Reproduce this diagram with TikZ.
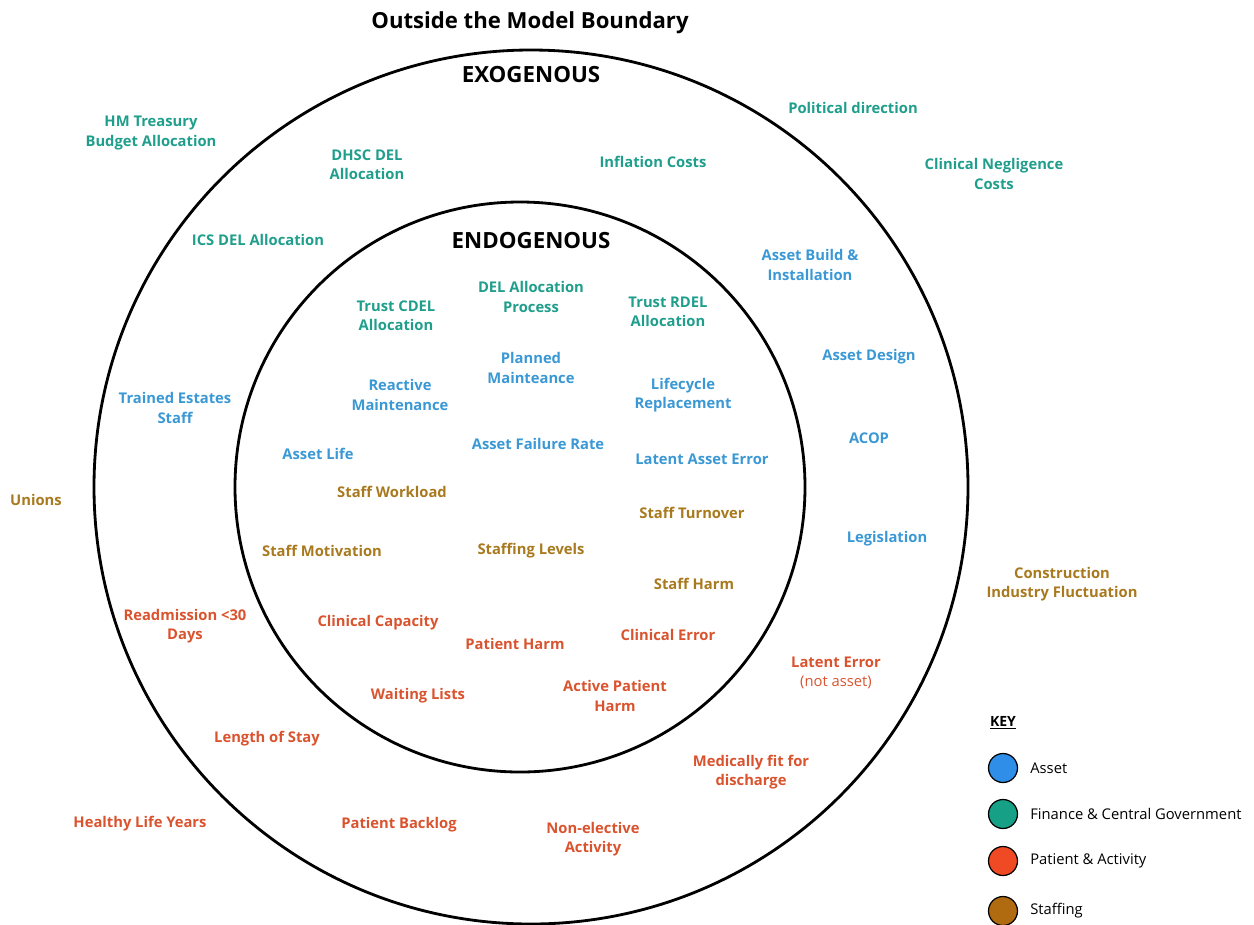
\documentclass[tikz,border=0pt]{standalone}
\usepackage{fontspec}
\setmainfont{Open Sans}
\usepackage{tikz}
\usetikzlibrary{positioning}

\definecolor{finc}{HTML}{1F9E8C}
\definecolor{astc}{HTML}{3A98D4}
\definecolor{patc}{HTML}{D9532E}
\definecolor{stfc}{HTML}{A8791E}
\definecolor{astdot}{HTML}{2F8FE8}
\definecolor{findot}{HTML}{16A085}
\definecolor{patdot}{HTML}{F04A25}
\definecolor{stfdot}{HTML}{B06A10}

\begin{document}
\begin{tikzpicture}[
    x=0.02cm, y=-0.02cm,
    ring/.style={draw, line width=1.6pt},
    lbl/.style={align=center, font=\bfseries\fontsize{8.4}{11}\selectfont, inner sep=1pt},
    head/.style={font=\bfseries\fontsize{12.7}{14}\selectfont},
    fin/.style={lbl, text=finc},
    ast/.style={lbl, text=astc},
    pat/.style={lbl, text=patc},
    stf/.style={lbl, text=stfc},
    keydot/.style={circle, draw, line width=0.7pt, minimum size=0.58cm, inner sep=0pt},
    keytxt/.style={font=\fontsize{8.4}{10}\selectfont, anchor=west}
]
\useasboundingbox (0,0) rectangle (1254,924);

% boundaries
\draw[ring] (531,487) circle [radius=437*0.02cm];
\draw[ring] (520,487) circle [radius=285*0.02cm];

\node[head, font=\bfseries\fontsize{12.6}{14}\selectfont] (title) at (530,23) {Outside the Model Boundary};
\node[head] (exo) at (531,75) {EXOGENOUS};
\node[head] (endo) at (531,241) {ENDOGENOUS};

% outside the model boundary
\node[fin] (hmt) at (151,133) {HM Treasury\\Budget Allocation};
\node[fin] (pol) at (853,108) {Political direction};
\node[fin] (cng) at (994,174) {Clinical Negligence\\Costs};
\node[stf] (uni) at (36,500) {Unions};
\node[stf] (con) at (1062,584) {Construction\\Industry Fluctuation};
\node[pat] (hly) at (140,824) {Healthy Life Years};

% exogenous
\node[fin] (dhsc) at (367,165) {DHSC DEL\\Allocation};
\node[fin] (inf) at (653,162) {Inflation Costs};
\node[fin] (ics) at (258,240) {ICS DEL Allocation};
\node[ast] (abi) at (810,265) {Asset Build \&\\Installation};
\node[ast] (ades) at (869,357) {Asset Design};
\node[ast] (tes) at (175,408) {Trained Estates\\Staff};
\node[ast] (acop) at (869,438) {ACOP};
\node[ast] (leg) at (887,539) {Legislation};
\node[pat] (readm) at (185,626) {Readmission <30\\Days};
\node[pat] (laterr) at (836,673) {Latent Error\\{\mdseries (not asset)}};
\node[pat] (los) at (267,739) {Length of Stay};
\node[pat] (mfd) at (751,772) {Medically fit for\\discharge};
\node[pat] (back) at (399,825) {Patient Backlog};
\node[pat] (nea) at (593,839) {Non-elective\\Activity};

% endogenous
\node[fin] (cdel) at (396,316) {Trust CDEL\\Allocation};
\node[fin] (delp) at (531,297) {DEL Allocation\\Process};
\node[fin] (rdel) at (668,312) {Trust RDEL\\Allocation};
\node[ast] (plan) at (531,368) {Planned\\Mainteance};
\node[ast] (react) at (400,395) {Reactive\\Maintenance};
\node[ast] (life) at (683,395) {Lifecycle\\Replacement};
\node[ast] (afr) at (538,444) {Asset Failure Rate};
\node[ast] (alife) at (318,454) {Asset Life};
\node[ast] (lae) at (702,459) {Latent Asset Error};
\node[stf] (work) at (392,492) {Staff Workload};
\node[stf] (turn) at (692,513) {Staff Turnover};
\node[stf] (motv) at (322,551) {Staff Motivation};
\node[stf] (levl) at (531,551) {Staffing Levels};
\node[stf] (sharm) at (694,584) {Staff Harm};
\node[pat] (ccap) at (378,623) {Clinical Capacity};
\node[pat] (cerr) at (668,635) {Clinical Error};
\node[pat] (pharm) at (515,644) {Patient Harm};
\node[pat] (wait) at (418,696) {Waiting Lists};
\node[pat] (aph) at (615,696) {Active Patient\\Harm};

% key
\node[font=\bfseries\fontsize{8}{10}\selectfont] (key) at (1003,723) {\underline{KEY}};
\node[keydot, fill=astdot] (k1) at (1003,768) {};
\node[keydot, fill=findot] (k2) at (1003,814) {};
\node[keydot, fill=patdot] (k3) at (1003,861) {};
\node[keydot, fill=stfdot] (k4) at (1003,911) {};
\node[keytxt, right=0.12cm of k1] {Asset};
\node[keytxt, right=0.12cm of k2] {Finance \& Central Government};
\node[keytxt, right=0.12cm of k3] {Patient \& Activity};
\node[keytxt, right=0.12cm of k4] {Staffing};
\end{tikzpicture}
\end{document}
